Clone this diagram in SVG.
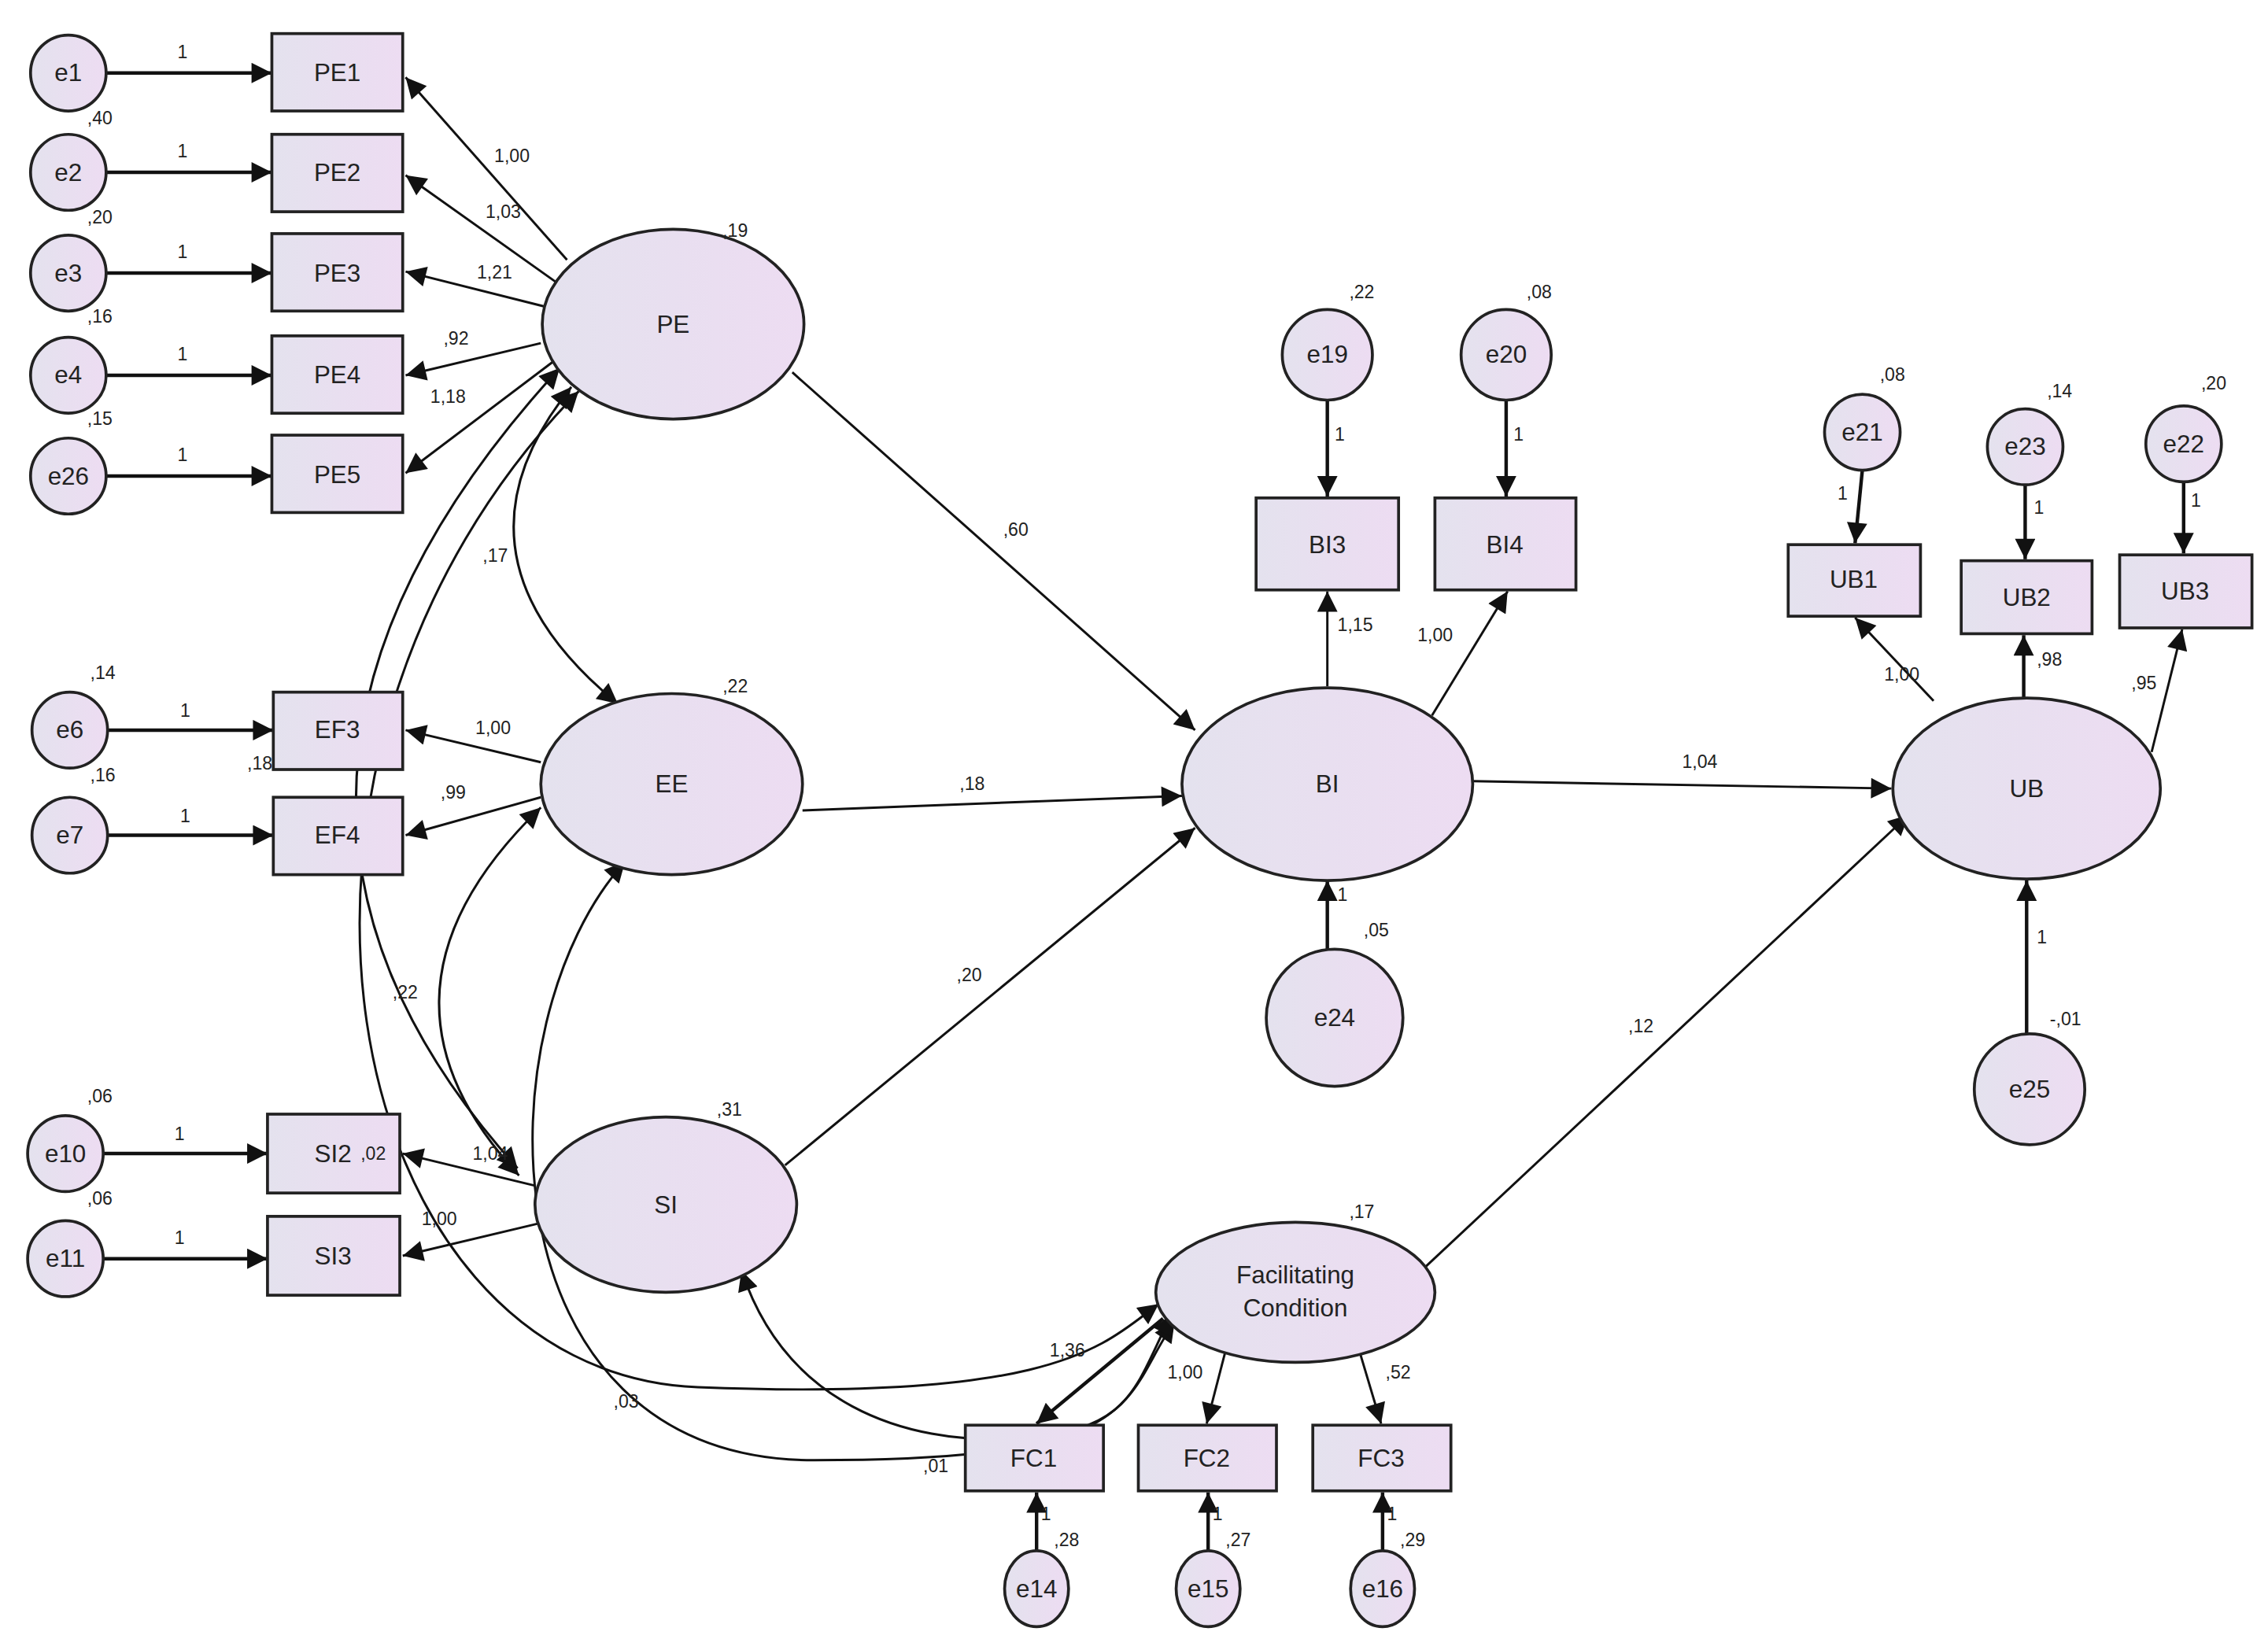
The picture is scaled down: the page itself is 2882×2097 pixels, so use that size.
<svg xmlns="http://www.w3.org/2000/svg" width="2882" height="2097" viewBox="0 0 2882 2097">
<style>
.n{fill:url(#g);stroke:#222;stroke-width:2}
.t{font-family:"Liberation Sans",Arial,sans-serif;font-size:17px;fill:#222;text-anchor:middle;dominant-baseline:central}
.l{font-family:"Liberation Sans",Arial,sans-serif;font-size:12.5px;fill:#222}
.c path,.c line{fill:none;stroke:#111;stroke-width:1.6}
.a{marker-end:url(#m)}
.d{marker-end:url(#m);marker-start:url(#m)}
.th{stroke-width:2.4!important}
</style>
<defs>
<linearGradient id="g" x1="0" y1="0" x2="1" y2="0"><stop offset="0" stop-color="#e4e2ee"/><stop offset="1" stop-color="#eddcf2"/></linearGradient>
<marker id="m" viewBox="0 0 10 10" refX="10" refY="5" markerWidth="18" markerHeight="14" markerUnits="userSpaceOnUse" orient="auto-start-reverse"><path d="M0,0L10,5L0,10z" fill="#111"/></marker>
</defs>
<rect width="2882" height="2097" fill="#fff"/>
<g transform="scale(1.8474,1.8558)">
<g class="c" id="connectors">
<line class="a th" x1="73" y1="50" x2="187" y2="50"/>
<line class="a th" x1="73" y1="118" x2="187" y2="118"/>
<line class="a th" x1="73" y1="187" x2="187" y2="187"/>
<line class="a th" x1="73" y1="257" x2="187" y2="257"/>
<line class="a th" x1="73" y1="326" x2="187" y2="326"/>
<line class="a th" x1="74" y1="500" x2="188" y2="500"/>
<line class="a th" x1="74" y1="572" x2="188" y2="572"/>
<line class="a th" x1="71" y1="790" x2="184" y2="790"/>
<line class="a th" x1="71" y1="862" x2="184" y2="862"/>
<line class="a" x1="390" y1="178" x2="279" y2="53"/>
<line class="a" x1="385" y1="195" x2="279" y2="120"/>
<line class="a" x1="375" y1="210" x2="279" y2="186"/>
<line class="a" x1="372" y1="235" x2="279" y2="257"/>
<line class="a" x1="380" y1="248" x2="279" y2="324"/>
<line class="a" x1="372" y1="522" x2="279" y2="500"/>
<line class="a" x1="372" y1="546" x2="279" y2="572"/>
<line class="a" x1="368" y1="812" x2="277" y2="790"/>
<line class="a" x1="370" y1="838" x2="277" y2="860"/>
<line class="a" x1="545" y1="255" x2="822" y2="500"/>
<line class="a" x1="552" y1="555" x2="813" y2="545"/>
<line class="a" x1="540" y1="798" x2="822" y2="567"/>
<line class="a" x1="1013" y1="535" x2="1301" y2="540"/>
<line class="a" x1="980" y1="868" x2="1313" y2="558"/>
<line class="a" x1="913" y1="470" x2="913" y2="405"/>
<line class="a" x1="985" y1="490" x2="1037" y2="405"/>
<line class="a th" x1="913" y1="274" x2="913" y2="340"/>
<line class="a th" x1="1036" y1="274" x2="1036" y2="340"/>
<line class="a th" x1="913" y1="650" x2="913" y2="603"/>
<line class="a" x1="1330" y1="480" x2="1276" y2="423"/>
<line class="a th" x1="1392" y1="478" x2="1392" y2="435"/>
<line class="a" x1="1480" y1="515" x2="1501" y2="431"/>
<line class="a th" x1="1281" y1="322" x2="1276" y2="372"/>
<line class="a th" x1="1393" y1="332" x2="1393" y2="383"/>
<line class="a th" x1="1502" y1="330" x2="1502" y2="379"/>
<line class="a th" x1="1394" y1="708" x2="1394" y2="603"/>
<line class="a" x1="843" y1="925" x2="830" y2="975"/>
<line class="a" x1="935" y1="925" x2="950" y2="975"/>
<line class="a th" x1="800" y1="903" x2="713" y2="975"/>
<line class="a th" x1="713" y1="1062" x2="713" y2="1022"/>
<line class="a th" x1="831" y1="1062" x2="831" y2="1022"/>
<line class="a th" x1="951" y1="1062" x2="951" y2="1022"/>
<path class="d" d="M393 265 Q300 380 425 482"/>
<path class="d" d="M372 553 Q240 680 357 805"/>
<path class="d" d="M385 252 Q120 540 356 800"/>
<path class="d" d="M398 268 C150 520 230 940 480 950 S760 920 797 893"/>
<path class="d" d="M430 590 C330 700 330 1000 560 1000 S770 960 808 905"/>
<path class="d" d="M510 870 C540 960 620 990 700 985 S780 950 806 900"/>
</g>
<g id="e1"><circle class="n" cx="47" cy="50" r="26"/><text class="t" x="47" y="50">e1</text></g>
<g id="e2"><circle class="n" cx="47" cy="118" r="26"/><text class="t" x="47" y="118">e2</text></g>
<g id="e3"><circle class="n" cx="47" cy="187" r="26"/><text class="t" x="47" y="187">e3</text></g>
<g id="e4"><circle class="n" cx="47" cy="257" r="26"/><text class="t" x="47" y="257">e4</text></g>
<g id="e26"><circle class="n" cx="47" cy="326" r="26"/><text class="t" x="47" y="326">e26</text></g>
<g id="PE1"><rect class="n" x="187" y="23" width="90" height="53"/><text class="t" x="232" y="50">PE1</text></g>
<g id="PE2"><rect class="n" x="187" y="92" width="90" height="53"/><text class="t" x="232" y="118">PE2</text></g>
<g id="PE3"><rect class="n" x="187" y="160" width="90" height="53"/><text class="t" x="232" y="187">PE3</text></g>
<g id="PE4"><rect class="n" x="187" y="230" width="90" height="53"/><text class="t" x="232" y="257">PE4</text></g>
<g id="PE5"><rect class="n" x="187" y="298" width="90" height="53"/><text class="t" x="232" y="325">PE5</text></g>
<g id="PE"><ellipse class="n" cx="463" cy="222" rx="90" ry="65"/><text class="t" x="463" y="222">PE</text></g>
<g id="e6"><circle class="n" cx="48" cy="500" r="26"/><text class="t" x="48" y="500">e6</text></g>
<g id="e7"><circle class="n" cx="48" cy="572" r="26"/><text class="t" x="48" y="572">e7</text></g>
<g id="EF3"><rect class="n" x="188" y="474" width="89" height="53"/><text class="t" x="232" y="500">EF3</text></g>
<g id="EF4"><rect class="n" x="188" y="546" width="89" height="53"/><text class="t" x="232" y="572">EF4</text></g>
<g id="EE"><ellipse class="n" cx="462" cy="537" rx="90" ry="62"/><text class="t" x="462" y="537">EE</text></g>
<g id="e10"><circle class="n" cx="45" cy="790" r="26"/><text class="t" x="45" y="790">e10</text></g>
<g id="e11"><circle class="n" cx="45" cy="862" r="26"/><text class="t" x="45" y="862">e11</text></g>
<g id="SI2"><rect class="n" x="184" y="763" width="91" height="54"/><text class="t" x="229" y="790">SI2</text></g>
<g id="SI3"><rect class="n" x="184" y="833" width="91" height="54"/><text class="t" x="229" y="860">SI3</text></g>
<g id="SI"><ellipse class="n" cx="458" cy="825" rx="90" ry="60"/><text class="t" x="458" y="825">SI</text></g>
<g id="FC"><ellipse class="n" cx="891" cy="885" rx="96" ry="48"/><text class="t" x="891" y="873">Facilitating</text><text class="t" x="891" y="896">Condition</text></g>
<g id="FC1"><rect class="n" x="664" y="976" width="95" height="45"/><text class="t" x="711" y="999">FC1</text></g>
<g id="FC2"><rect class="n" x="783" y="976" width="95" height="45"/><text class="t" x="830" y="999">FC2</text></g>
<g id="FC3"><rect class="n" x="903" y="976" width="95" height="45"/><text class="t" x="950" y="999">FC3</text></g>
<g id="e14"><ellipse class="n" cx="713" cy="1088" rx="22" ry="26"/><text class="t" x="713" y="1088">e14</text></g>
<g id="e15"><ellipse class="n" cx="831" cy="1088" rx="22" ry="26"/><text class="t" x="831" y="1088">e15</text></g>
<g id="e16"><ellipse class="n" cx="951" cy="1088" rx="22" ry="26"/><text class="t" x="951" y="1088">e16</text></g>
<g id="BI"><ellipse class="n" cx="913" cy="537" rx="100" ry="66"/><text class="t" x="913" y="537">BI</text></g>
<g id="BI3"><rect class="n" x="864" y="341" width="98" height="63"/><text class="t" x="913" y="373">BI3</text></g>
<g id="BI4"><rect class="n" x="987" y="341" width="97" height="63"/><text class="t" x="1035" y="373">BI4</text></g>
<g id="e19"><circle class="n" cx="913" cy="243" r="31"/><text class="t" x="913" y="243">e19</text></g>
<g id="e20"><circle class="n" cx="1036" cy="243" r="31"/><text class="t" x="1036" y="243">e20</text></g>
<g id="e24"><circle class="n" cx="918" cy="697" r="47"/><text class="t" x="918" y="697">e24</text></g>
<g id="UB"><ellipse class="n" cx="1394" cy="540" rx="92" ry="62"/><text class="t" x="1394" y="540">UB</text></g>
<g id="UB1"><rect class="n" x="1230" y="373" width="91" height="49"/><text class="t" x="1275" y="397">UB1</text></g>
<g id="UB2"><rect class="n" x="1349" y="384" width="90" height="50"/><text class="t" x="1394" y="409">UB2</text></g>
<g id="UB3"><rect class="n" x="1458" y="380" width="91" height="50"/><text class="t" x="1503" y="405">UB3</text></g>
<g id="e21"><circle class="n" cx="1281" cy="296" r="26"/><text class="t" x="1281" y="296">e21</text></g>
<g id="e23"><circle class="n" cx="1393" cy="306" r="26"/><text class="t" x="1393" y="306">e23</text></g>
<g id="e22"><circle class="n" cx="1502" cy="304" r="26"/><text class="t" x="1502" y="304">e22</text></g>
<g id="e25"><circle class="n" cx="1396" cy="746" r="38"/><text class="t" x="1396" y="746">e25</text></g>
<g id="labels">
<text class="l" x="122" y="40">1</text><text class="l" x="122" y="108">1</text><text class="l" x="122" y="177">1</text><text class="l" x="122" y="247">1</text><text class="l" x="122" y="316">1</text>
<text class="l" x="124" y="491">1</text><text class="l" x="124" y="563">1</text><text class="l" x="120" y="781">1</text><text class="l" x="120" y="852">1</text>
<text class="l" x="60" y="85">,40</text><text class="l" x="60" y="153">,20</text><text class="l" x="60" y="221">,16</text><text class="l" x="60" y="291">,15</text>
<text class="l" x="62" y="465">,14</text><text class="l" x="62" y="535">,16</text><text class="l" x="170" y="527">,18</text>
<text class="l" x="60" y="755">,06</text><text class="l" x="60" y="825">,06</text><text class="l" x="248" y="794">,02</text>
<text class="l" x="340" y="111">1,00</text><text class="l" x="334" y="149">1,03</text><text class="l" x="328" y="191">1,21</text><text class="l" x="305" y="236">,92</text><text class="l" x="296" y="276">1,18</text>
<text class="l" x="327" y="503">1,00</text><text class="l" x="303" y="547">,99</text><text class="l" x="325" y="794">1,04</text><text class="l" x="290" y="839">1,00</text>
<text class="l" x="497" y="162">,19</text><text class="l" x="497" y="474">,22</text><text class="l" x="493" y="764">,31</text><text class="l" x="928" y="834">,17</text>
<text class="l" x="332" y="385">,17</text><text class="l" x="270" y="684">,22</text><text class="l" x="422" y="964">,03</text><text class="l" x="635" y="1008">,01</text><text class="l" x="722" y="929">1,36</text>
<text class="l" x="690" y="367">,60</text><text class="l" x="660" y="541">,18</text><text class="l" x="658" y="672">,20</text><text class="l" x="1157" y="526">1,04</text><text class="l" x="1120" y="707">,12</text>
<text class="l" x="928" y="204">,22</text><text class="l" x="1050" y="204">,08</text><text class="l" x="918" y="302">1</text><text class="l" x="1041" y="302">1</text>
<text class="l" x="920" y="432">1,15</text><text class="l" x="975" y="439">1,00</text><text class="l" x="920" y="617">1</text><text class="l" x="938" y="641">,05</text>
<text class="l" x="1293" y="261">,08</text><text class="l" x="1408" y="272">,14</text><text class="l" x="1514" y="267">,20</text>
<text class="l" x="1264" y="342">1</text><text class="l" x="1399" y="352">1</text><text class="l" x="1507" y="347">1</text>
<text class="l" x="1296" y="466">1,00</text><text class="l" x="1401" y="456">,98</text><text class="l" x="1466" y="472">,95</text>
<text class="l" x="1401" y="646">1</text><text class="l" x="1410" y="702">-,01</text>
<text class="l" x="803" y="944">1,00</text><text class="l" x="953" y="944">,52</text>
<text class="l" x="716" y="1041">1</text><text class="l" x="834" y="1041">1</text><text class="l" x="954" y="1041">1</text>
<text class="l" x="725" y="1059">,28</text><text class="l" x="843" y="1059">,27</text><text class="l" x="963" y="1059">,29</text>
</g>
</g>
</svg>
